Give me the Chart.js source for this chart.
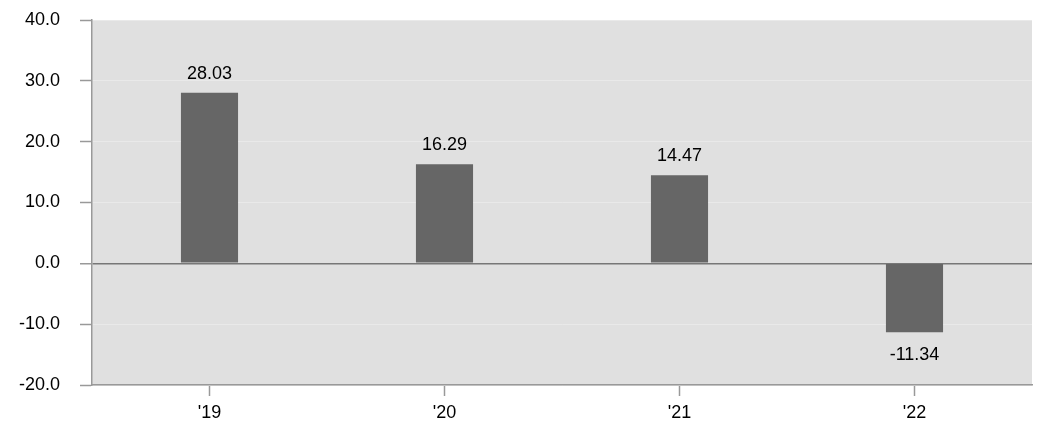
<!DOCTYPE html>
<html>
<head>
<meta charset="utf-8">
<script src="https://cdn.jsdelivr.net/npm/chart.js@4"></script>
<style>
  html, body { margin: 0; padding: 0; background: #fff; }
  #wrap { width: 1052px; height: 442px; }
</style>
</head>
<body>
<div id="wrap"><canvas id="myChart"></canvas></div>
<script>
const years = ["'19", "'20", "'21", "'22"];
const values = [28.03, 16.29, 14.47, -11.34];
const yTicks = [-20, -10, 0, 10, 20, 30, 40];

const ctx = document.getElementById("myChart");
const FONT = "'Liberation Sans', Arial, sans-serif";

// grey plot background behind the bars
const plotBg = {
  id: "plotBg",
  beforeDraw(chart) {
    const a = chart.chartArea;
    const c = chart.ctx;
    c.save();
    c.fillStyle = "#e0e0e0";
    c.fillRect(a.left, a.top, a.right - a.left, a.bottom - a.top);
    c.restore();
  },
};

// value labels above / below each bar
const barLabels = {
  id: "barLabels",
  afterDatasetsDraw(chart) {
    const c = chart.ctx;
    const meta = chart.getDatasetMeta(0);
    c.save();
    c.font = "18px " + FONT;
    c.fillStyle = "#000";
    c.textAlign = "center";
    c.textBaseline = "middle";
    meta.data.forEach(function (bar, i) {
      const v = values[i];
      const y = v >= 0 ? bar.y - 19 : bar.y + 23;
      c.fillText(v.toFixed(2), bar.x, y);
    });
    c.restore();
  },
};

var chart = new Chart(ctx, {
  type: "bar",
  data: {
    labels: years,
    datasets: [
      {
        data: values,
        backgroundColor: "#666666",
        borderWidth: 0,
        categoryPercentage: 1,
        barPercentage: 0.243,
      },
    ],
  },
  options: {
    responsive: true,
    maintainAspectRatio: false,
    animation: false,
    layout: { padding: { left: 0, right: 20, top: 20, bottom: 0 } },
    plugins: {
      legend: { display: false },
      tooltip: { enabled: false },
    },
    scales: {
      x: {
        offset: true,
        afterFit(scale) { scale.height = 57; },
        grid: {
          offset: false,
          drawOnChartArea: false,
          drawTicks: true,
          tickLength: 11,
          tickColor: "#999",
          tickWidth: 1.5,
        },
        border: { color: "#999", width: 1.5 },
        ticks: {
          color: "#000",
          padding: 6,
          font: { family: FONT, size: 18 },
        },
      },
      y: {
        min: -20,
        max: 40,
        afterFit(scale) {
          scale.width = 92;
          scale.paddingTop = 0;
          scale.paddingBottom = 0;
        },
        afterBuildTicks(scale) {
          scale.ticks = yTicks.map(function (v) { return { value: v }; });
        },
        grid: {
          color: function (c) {
            return c.tick && c.tick.value === 0 ? "#777" : "#e9e9e9";
          },
          lineWidth: function (c) {
            return c.tick && c.tick.value === 0 ? 1.5 : 1;
          },
          tickLength: 12,
          tickColor: "#999",
          tickWidth: 1.5,
        },
        border: { color: "#999", width: 1.5 },
        ticks: {
          color: "#000",
          padding: 20,
          font: { family: FONT, size: 18 },
          callback: function (v) { return Number(v).toFixed(1); },
        },
      },
    },
  },
  plugins: [plotBg, barLabels],
});
</script>
</body>
</html>
